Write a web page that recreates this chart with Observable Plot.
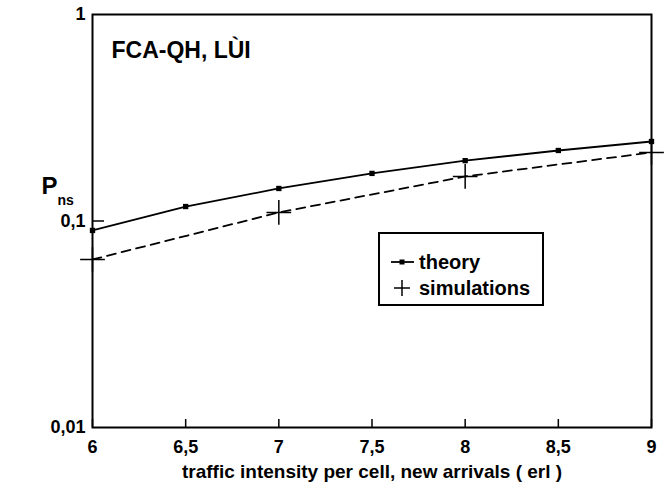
<!DOCTYPE html>
<html>
<head>
<meta charset="utf-8">
<script src="https://cdn.jsdelivr.net/npm/d3@7"></script>
<script src="https://cdn.jsdelivr.net/npm/@observablehq/plot@0.6"></script>
<style>
  html, body { margin: 0; padding: 0; background: #fff; }
  #wrap { position: relative; width: 668px; height: 490px; font-family: "Liberation Sans", Arial, Helvetica, sans-serif; font-weight: bold; color: #000; }
  #legend { position: absolute; left: 378px; top: 232px; width: 162px; height: 70px; border: 2px solid #000; background: #fff; box-sizing: content-box; }
  .row { position: absolute; left: 10px; height: 24px; display: flex; align-items: center; font-size: 20px; }
  .row svg { margin-right: 3px; }
</style>
</head>
<body>
<div id="wrap"></div>
<script>
// ---- data ----
const traffic = [6, 6.5, 7, 7.5, 8, 8.5, 9];
const theory = [0.090, 0.1175, 0.1437, 0.170, 0.196, 0.2195, 0.2427];
const simTraffic = [6, 7, 8, 9];
const simulations = [0.0651, 0.110, 0.1643, 0.2147];
const xTicks = [6, 6.5, 7, 7.5, 8, 8.5, 9];
const xTickLabels = ["6", "6,5", "7", "7,5", "8", "8,5", "9"];
const yTicks = [0.01, 0.1, 1];
const yTickLabels = ["0,01", "0,1", "1"];
const seriesNames = ["theory", "simulations"];
const annotation = "FCA-QH, LÙI";
const xTitle = "traffic intensity per cell, new arrivals ( erl )";

const theoryData = traffic.map((x, i) => ({x, y: theory[i]}));
const simData = simTraffic.map((x, i) => ({x, y: simulations[i]}));

const W = 668, H = 490, mL = 92, mR = 17, mT = 14, mB = 63;
const frameW = W - mL - mR, frameH = H - mT - mB;
const font = '"Liberation Sans", Arial, Helvetica, sans-serif';

const chart = Plot.plot({
  width: W, height: H,
  marginLeft: mL, marginRight: mR, marginTop: mT, marginBottom: mB,
  style: {fontFamily: font, fontWeight: "bold", fontSize: "18px", color: "#000", background: "#fff", overflow: "visible"},
  x: {domain: [6, 9], label: null},
  y: {type: "log", domain: [0.01, 1], label: null},
  marks: [
    Plot.axisX(xTicks, {tickSize: 0, tickPadding: 13, tickFormat: d => xTickLabels[xTicks.indexOf(d)], fontSize: 18, fontWeight: "bold"}),
    Plot.axisY(yTicks, {tickSize: 0, tickPadding: 7, tickFormat: d => yTickLabels[yTicks.indexOf(d)], fontSize: 18, fontWeight: "bold"}),
    // inward ticks
    Plot.tickX(xTicks, {x: d => d, insetTop: frameH - 8, stroke: "#000", strokeWidth: 1.5}),
    Plot.tickY(yTicks.filter(v => v > 0.01 && v < 1), {y: d => d, insetRight: frameW - 12, stroke: "#000", strokeWidth: 1.5}),
    Plot.frame({stroke: "#000", strokeWidth: 2}),
    // series
    Plot.line(simData, {x: "x", y: "y", stroke: "#000", strokeWidth: 1.8, strokeDasharray: "9,6"}),
    Plot.dot(simData, {x: "x", y: "y", symbol: "plus", r: 8, stroke: "#000", strokeWidth: 1.5}),
    Plot.line(theoryData, {x: "x", y: "y", stroke: "#000", strokeWidth: 1.8}),
    Plot.dot(theoryData, {x: "x", y: "y", symbol: "square", r: 3, fill: "#000", stroke: "none"}),
    // annotation
    Plot.text([annotation], {text: d => d, frameAnchor: "top-left", dx: 19, dy: 36, textAnchor: "start", lineAnchor: "middle", fontSize: 23, fontWeight: "bold", fill: "#000"}),
    // y axis label P_ns
    Plot.text(["P"], {text: d => d, frameAnchor: "left", dx: -43, dy: -35, textAnchor: "middle", lineAnchor: "middle", fontSize: 24, fontWeight: "bold", fill: "#000"}),
    Plot.text(["ns"], {text: d => d, frameAnchor: "left", dx: -35, dy: -20, textAnchor: "start", lineAnchor: "middle", fontSize: 14, fontWeight: "bold", fill: "#000"}),
    // x title
    Plot.text([xTitle], {text: d => d, frameAnchor: "bottom", dy: 44, textAnchor: "middle", lineAnchor: "middle", fontSize: 19, fontWeight: "bold", fill: "#000"})
  ]
});
const wrap = document.getElementById("wrap");
wrap.appendChild(chart);

// legend box
const legend = document.createElement("div");
legend.id = "legend";
legend.innerHTML = `
  <div class="row" style="top:16px">
    <svg width="26" height="16"><line x1="1" y1="8" x2="24" y2="8" stroke="#000" stroke-width="1.8"/><rect x="9.5" y="5.5" width="5" height="5" fill="#000"/></svg>${seriesNames[0]}
  </div>
  <div class="row" style="top:42px">
    <svg width="26" height="20"><line x1="4" y1="10" x2="20" y2="10" stroke="#000" stroke-width="1.5"/><line x1="12" y1="2" x2="12" y2="18" stroke="#000" stroke-width="1.5"/></svg>${seriesNames[1]}
  </div>`;
wrap.appendChild(legend);
</script>
</body>
</html>
